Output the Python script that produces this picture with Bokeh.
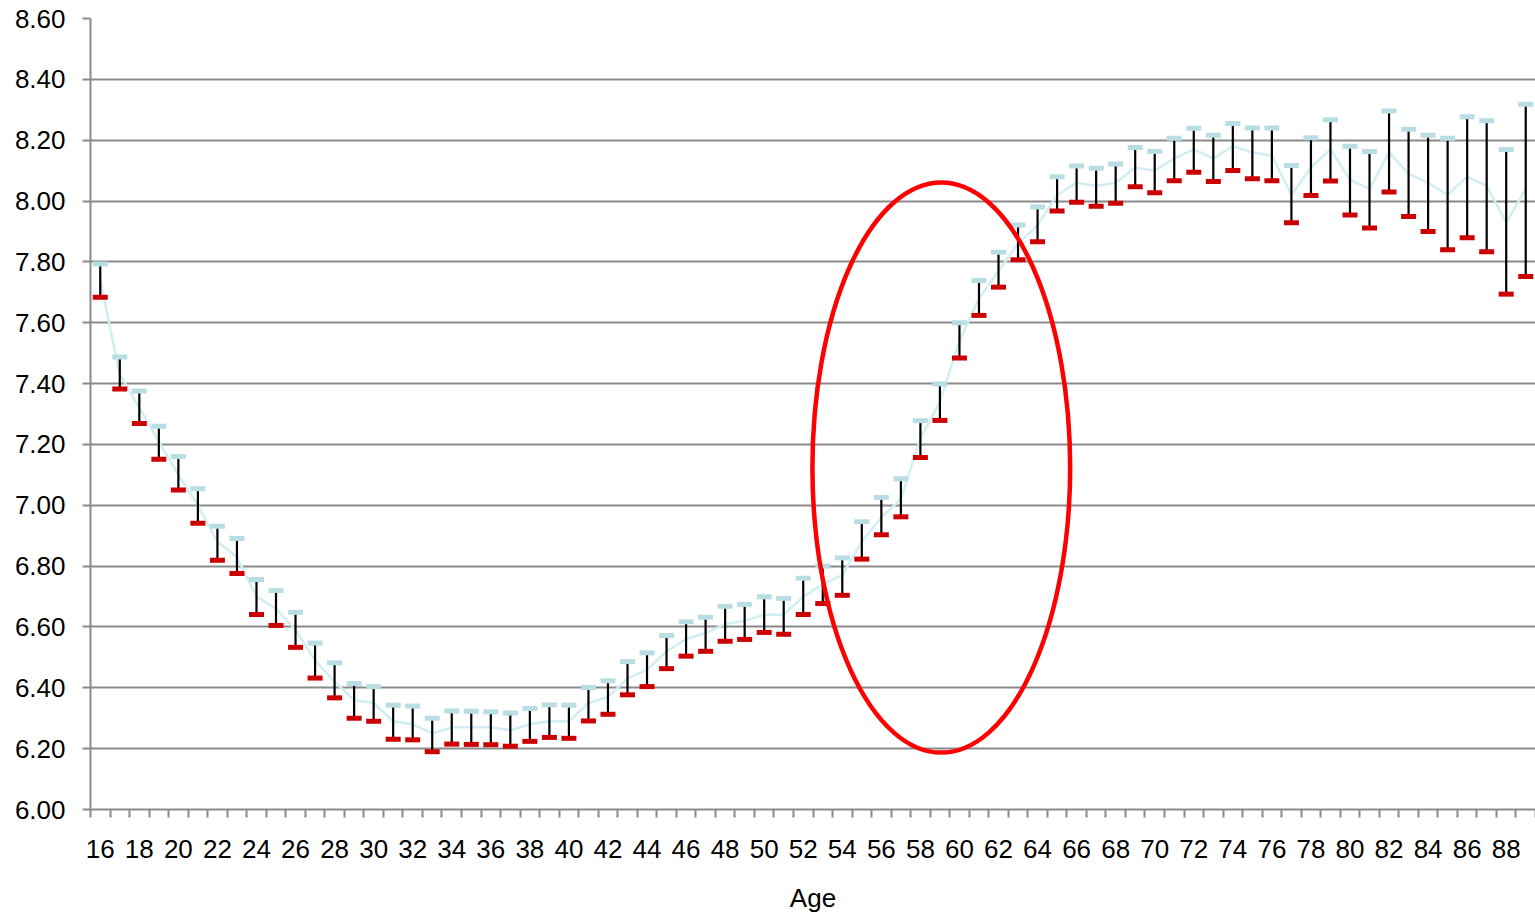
from bokeh.plotting import figure
from bokeh.models import FixedTicker, NumeralTickFormatter, Range1d
from bokeh.embed import file_html
from bokeh.resources import INLINE

# ---- data ----
ages = list(range(16, 90))
upper = [7.793, 7.487, 7.376, 7.260, 7.160, 7.054, 6.931, 6.891, 6.756, 6.720,
         6.648, 6.547, 6.482, 6.414, 6.404, 6.343, 6.340, 6.300, 6.324, 6.323,
         6.321, 6.317, 6.332, 6.344, 6.343, 6.401, 6.423, 6.486, 6.515, 6.572,
         6.617, 6.632, 6.668, 6.674, 6.699, 6.694, 6.760, 6.800, 6.827, 6.946,
         7.026, 7.087, 7.278, 7.399, 7.600, 7.739, 7.832, 7.921, 7.980, 8.080,
         8.115, 8.108, 8.122, 8.176, 8.163, 8.206, 8.239, 8.216, 8.255, 8.240,
         8.240, 8.117, 8.208, 8.267, 8.180, 8.163, 8.296, 8.236, 8.216, 8.206,
         8.277, 8.264, 8.169, 8.318]
lower = [7.684, 7.382, 7.269, 7.151, 7.050, 6.941, 6.819, 6.776, 6.641, 6.605,
         6.533, 6.432, 6.367, 6.300, 6.290, 6.231, 6.229, 6.190, 6.215, 6.214,
         6.213, 6.208, 6.224, 6.237, 6.234, 6.291, 6.313, 6.377, 6.404, 6.463,
         6.504, 6.520, 6.553, 6.559, 6.582, 6.576, 6.641, 6.677, 6.704, 6.823,
         6.903, 6.962, 7.157, 7.279, 7.484, 7.624, 7.717, 7.807, 7.866, 7.967,
         7.996, 7.983, 7.993, 8.047, 8.027, 8.067, 8.095, 8.064, 8.100, 8.073,
         8.067, 7.929, 8.018, 8.066, 7.954, 7.911, 8.030, 7.949, 7.900, 7.840,
         7.879, 7.833, 7.694, 7.752]
middle = [7.74, 7.43, 7.32, 7.21, 7.10, 7.00, 6.88, 6.83, 6.70, 6.66,
          6.59, 6.49, 6.42, 6.36, 6.35, 6.29, 6.28, 6.25, 6.27, 6.27,
          6.27, 6.26, 6.28, 6.29, 6.29, 6.35, 6.37, 6.43, 6.46, 6.52,
          6.56, 6.58, 6.61, 6.62, 6.64, 6.64, 6.70, 6.74, 6.77, 6.88,
          6.96, 7.02, 7.22, 7.34, 7.54, 7.68, 7.77, 7.86, 7.92, 8.02,
          8.06, 8.05, 8.06, 8.11, 8.10, 8.14, 8.17, 8.14, 8.18, 8.16,
          8.15, 8.02, 8.11, 8.17, 8.07, 8.04, 8.16, 8.09, 8.06, 8.02,
          8.08, 8.05, 7.93, 8.04]
x_tick_labels = list(range(16, 90, 2))
y_ticks = [6.0, 6.2, 6.4, 6.6, 6.8, 7.0, 7.2, 7.4, 7.6, 7.8, 8.0, 8.2, 8.4, 8.6]
x_label = "Age"

# highlight ellipse (annotation, in data units)
ell_x, ell_y, ell_w, ell_h = 59.07, 7.124, 13.2, 1.874

FONT = "Liberation Sans"
FS = "26px"
GRID = "#8A8A8A"

p = figure(width=1535, height=915,
           x_range=Range1d(15.5, 89.5), y_range=Range1d(6.0, 8.6),
           output_backend="svg", toolbar_location=None,
           min_border_left=90, min_border_right=0,
           min_border_top=18, min_border_bottom=106)
p.outline_line_color = None
p.background_fill_color = "white"
p.border_fill_color = "white"

p.xgrid.visible = False
p.ygrid.grid_line_color = GRID
p.ygrid.grid_line_width = 2
p.ygrid.ticker = FixedTicker(ticks=y_ticks)

# y axis
p.yaxis.ticker = FixedTicker(ticks=y_ticks)
p.yaxis.formatter = NumeralTickFormatter(format="0.00")
p.yaxis.axis_line_color = GRID
p.yaxis.axis_line_width = 2
p.yaxis.major_tick_line_color = GRID
p.yaxis.major_tick_line_width = 2
p.yaxis.major_tick_out = 8
p.yaxis.major_tick_in = 0
p.yaxis.minor_tick_line_color = None
p.yaxis.major_label_standoff = 17
p.yaxis.major_label_text_font = FONT
p.yaxis.major_label_text_font_size = FS
p.yaxis.major_label_text_color = "black"

# x axis
p.xaxis.ticker = FixedTicker(ticks=x_tick_labels,
                             minor_ticks=[a - 0.5 for a in ages] + [ages[-1] + 0.5])
p.xaxis.axis_line_color = GRID
p.xaxis.axis_line_width = 2
p.xaxis.major_tick_line_color = None
p.xaxis.major_tick_out = 8
p.xaxis.major_tick_in = 0
p.xaxis.minor_tick_line_color = GRID
p.xaxis.minor_tick_line_width = 2
p.xaxis.minor_tick_out = 8
p.xaxis.minor_tick_in = 0
p.xaxis.major_label_standoff = 22
p.xaxis.major_label_text_font = FONT
p.xaxis.major_label_text_font_size = FS
p.xaxis.major_label_text_color = "black"
p.xaxis.axis_label = x_label
p.xaxis.axis_label_text_font = FONT
p.xaxis.axis_label_text_font_size = FS
p.xaxis.axis_label_text_font_style = "normal"
p.xaxis.axis_label_text_color = "black"
p.xaxis.axis_label_standoff = 22

# series
p.line(ages, middle, line_color="#D0EEF3", line_width=2.5)
p.segment(ages, upper, ages, lower, line_color="black", line_width=2.2)
p.rect(ages, upper, width=15, height=5, width_units="screen", height_units="screen",
       fill_color="#B8DEE4", line_color=None)
p.rect(ages, lower, width=15, height=5, width_units="screen", height_units="screen",
       fill_color="#CC0000", line_color=None)

p.ellipse(x=ell_x, y=ell_y, width=ell_w, height=ell_h,
          fill_color=None, line_color="#FF0000", line_width=4.5)

open("out.html", "w").write(file_html(p, INLINE))
